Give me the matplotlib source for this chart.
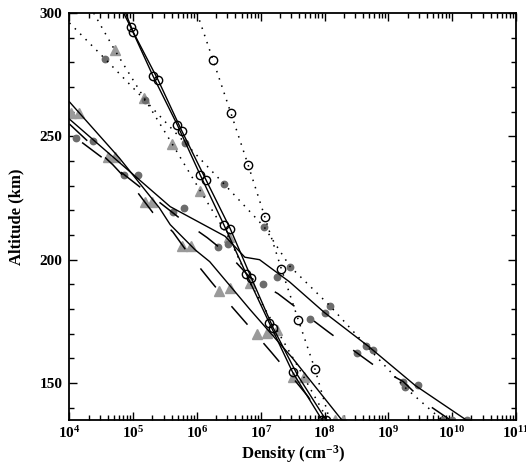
import numpy as np
import matplotlib
matplotlib.use("Agg")
import matplotlib.pyplot as plt
from matplotlib.ticker import MultipleLocator, FuncFormatter, LogLocator, NullFormatter

plt.rcParams['font.family'] = ['Liberation Serif', 'DejaVu Serif']
plt.rcParams['font.weight'] = 'bold'
plt.rcParams['mathtext.fontset'] = 'custom'
plt.rcParams['mathtext.rm'] = 'Liberation Serif:bold'
plt.rcParams['mathtext.bf'] = 'Liberation Serif:bold'
plt.rcParams['mathtext.it'] = 'Liberation Serif:bold'

# ---- O: two solid model profiles + dotted profile (open circles) ----
alt_o_solid1 = [300, 294.3, 274.5, 254.7, 234.4, 214.2, 194.3, 174.5, 154.3, 135]
n_o_solid1 = [7.08e4, 9.12e4, 2.04e5, 4.9e5, 1.12e6, 2.63e6, 5.89e6, 1.35e7, 3.16e7, 9.12e7]
alt_o_solid2 = [300, 292.3, 272.9, 252.3, 232.4, 212.6, 192.7, 172.5, 153, 135]
n_o_solid2 = [7.59e4, 1.0e5, 2.45e5, 5.75e5, 1.38e6, 3.31e6, 7.08e6, 1.55e7, 3.8e7, 1.05e8]
alt_o_dot = [300, 281, 259.5, 238.5, 217.5, 196.4, 175.4, 155.5, 135]
n_o_dot = [1.0e6, 1.78e6, 3.39e6, 6.31e6, 1.15e7, 2.09e7, 3.89e7, 7.08e7, 1.2e8]

# ---- heavy species: solid, dashed, dotted profiles (grey circles) ----
alt_g_solid = [257, 221.5, 209.5, 201, 200, 191, 178.5, 165, 149, 135]
n_g_solid = [1.0e4, 3.8e5, 2.75e6, 5.62e6, 9.55e6, 2.82e7, 1.0e8, 4.79e8, 2.63e9, 1.66e10]
alt_g_dash = [247.5, 239.3, 216.2, 208.9, 201.2, 192.8, 186.2, 178.5, 170.9, 164, 156.7, 150.6, 141.7, 135]
n_g_dash = [1.58e4, 4.17e4, 5.75e5, 1.45e6, 3.39e6, 6.76e6, 1.86e7, 4.57e7, 1.12e8, 2.57e8, 6.31e8, 1.7e9, 3.89e9, 9.33e9]
alt_g_dot = [296, 281.4, 264.8, 247.4, 230.8, 213.4, 197.2, 181.4, 165.2, 148.2, 135]
n_g_dot = [1.0e4, 3.63e4, 1.51e5, 6.46e5, 2.63e6, 1.12e7, 2.88e7, 1.2e8, 4.47e8, 1.82e9, 6.92e9]

# ---- third species: solid, dashed, dotted profiles (triangles) ----
alt_t_solid = [264, 241.3, 221, 214.2, 204, 199.2, 179.8, 160, 135]
n_t_solid = [1.0e4, 6.03e4, 2.57e5, 3.8e5, 9.33e5, 1.58e6, 6.76e6, 3.16e7, 1.86e8]
alt_t_dash = [255, 238.5, 229.6, 219, 211.3, 203, 200.4, 191.1, 181.4, 172.5, 162.3, 153.4, 144.5, 135.5]
n_t_dash = [1.0e4, 4.79e4, 1.0e5, 2.04e5, 4.17e5, 7.08e5, 8.51e5, 1.66e6, 3.39e6, 6.76e6, 1.48e7, 2.88e7, 5.5e7, 9.33e7]
alt_t_dot = [300, 285, 265.6, 247, 228, 209, 190.7, 171.6, 152.6, 135]
n_t_dot = [2.4e4, 5.13e4, 1.48e5, 4.07e5, 1.12e6, 3.16e6, 6.76e6, 1.78e7, 4.68e7, 1.12e8]

# ---- measured densities ----
alt_circ1 = [294.3, 274.5, 254.7, 234.4, 214.2, 194.3, 174.5, 154.3, 135]
n_circ1 = [9.12e4, 2.04e5, 4.9e5, 1.12e6, 2.63e6, 5.89e6, 1.35e7, 3.16e7, 9.12e7]
alt_circ2 = [292.3, 272.9, 252.3, 232.4, 212.6, 192.7, 172.5, 135]
n_circ2 = [1.0e5, 2.45e5, 5.75e5, 1.38e6, 3.31e6, 7.08e6, 1.55e7, 1.05e8]
alt_circ3 = [281, 259.5, 238.5, 217.5, 196.4, 175.4, 155.5]
n_circ3 = [1.78e6, 3.39e6, 6.31e6, 1.15e7, 2.09e7, 3.89e7, 7.08e7]

alt_gray_b = [248.2, 234.4, 221, 206.5, 193.1, 178.5, 163.2, 149, 135]
n_gray_b = [2.34e4, 1.17e5, 6.17e5, 3.02e6, 1.78e7, 1.0e8, 5.75e8, 2.88e9, 1.7e10]
alt_gray_c = [249.4, 234.4, 219.4, 205.3, 190.3, 176.1, 162.3, 150.2, 135]
n_gray_c = [1.26e4, 7.08e4, 4.17e5, 2.14e6, 1.07e7, 5.89e7, 3.24e8, 1.7e9, 1.0e10]
alt_gray_d = [281.4, 264.8, 247.4, 230.8, 213.4, 197.2, 181.4, 165.2, 148.2, 135]
n_gray_d = [3.63e4, 1.51e5, 6.46e5, 2.63e6, 1.12e7, 2.88e7, 1.2e8, 4.47e8, 1.82e9, 6.92e9]

alt_tri_a = [259.5, 241.7, 223.5, 205.7, 187.5, 170, 152.6, 135]
n_tri_a = [1.05e4, 3.98e4, 1.51e5, 5.89e5, 2.19e6, 8.71e6, 3.16e7, 1.45e8]
alt_tri_b = [259.5, 241.7, 223.5, 205.7, 188.7, 170.4, 135]
n_tri_b = [1.41e4, 5.25e4, 2.0e5, 7.94e5, 3.31e6, 1.26e7, 1.95e8]
alt_tri_c = [285, 265.6, 247, 228, 209, 190.7, 171.6, 152.6]
n_tri_c = [5.13e4, 1.48e5, 4.07e5, 1.12e6, 3.16e6, 6.76e6, 1.78e7, 4.68e7]

fig = plt.figure(figsize=(5.26, 4.68), dpi=100)
ax = fig.add_axes([0.132, 0.1026, 0.849, 0.8695])

tri_col = '#9a9a9a'
dot_col = '#6c6c6c'
for a, n in [(alt_tri_a, n_tri_a), (alt_tri_b, n_tri_b), (alt_tri_c, n_tri_c)]:
    ax.plot(n, a, linestyle='none', marker='^', ms=7.5, color=tri_col, mec=tri_col, zorder=2)
for a, n in [(alt_gray_b, n_gray_b), (alt_gray_c, n_gray_c), (alt_gray_d, n_gray_d)]:
    ax.plot(n, a, linestyle='none', marker='o', ms=4.6, color=dot_col, mec=dot_col, zorder=2)
for a, n in [(alt_circ1, n_circ1), (alt_circ2, n_circ2), (alt_circ3, n_circ3)]:
    ax.plot(n, a, linestyle='none', marker='o', ms=6, mfc='none', mec='black', mew=1.0, zorder=4)

solid = dict(color='black', lw=1.0, zorder=3)
dashed = dict(color='black', lw=1.1, linestyle=(0, (16, 16)), zorder=3)
dotted = dict(color='black', lw=1.1, linestyle=(0, (1, 4)), zorder=3)

ax.plot(n_o_solid1, alt_o_solid1, **solid)
ax.plot(n_o_solid2, alt_o_solid2, **solid)
ax.plot(n_o_dot, alt_o_dot, **dotted)
ax.plot(n_g_solid, alt_g_solid, **solid)
ax.plot(n_g_dash, alt_g_dash, **dashed)
ax.plot(n_g_dot, alt_g_dot, **dotted)
ax.plot(n_t_solid, alt_t_solid, **solid)
ax.plot(n_t_dash, alt_t_dash, **dashed)
ax.plot(n_t_dot, alt_t_dot, **dotted)

ax.set_xscale('log')
ax.set_xlim(1e4, 1e11)
ax.set_ylim(135, 300)
ax.set_yticks([150, 200, 250, 300])
ax.yaxis.set_minor_locator(MultipleLocator(10))
ax.xaxis.set_major_locator(LogLocator(base=10, numticks=20))
ax.xaxis.set_minor_locator(LogLocator(base=10, subs=np.arange(2, 10), numticks=20))
ax.xaxis.set_minor_formatter(NullFormatter())
ax.xaxis.set_major_formatter(FuncFormatter(lambda v, p: r'$\mathbf{10^{%d}}$' % int(round(np.log10(v)))))

ax.tick_params(which='both', direction='in', top=True, right=True, width=1.0, labelsize=11)
ax.tick_params(which='major', length=6)
ax.tick_params(which='minor', length=3.5)
ax.tick_params(axis='x', pad=4)
ax.tick_params(axis='y', pad=5)
for s in ax.spines.values():
    s.set_linewidth(1.3)

ax.set_xlabel(r'Density (cm$^{\mathbf{-3}}$)', fontsize=12, fontweight='bold', labelpad=1)
ax.set_ylabel('Altitude (km)', fontsize=12, fontweight='bold', labelpad=11)

fig.savefig('out.png', dpi=100)
